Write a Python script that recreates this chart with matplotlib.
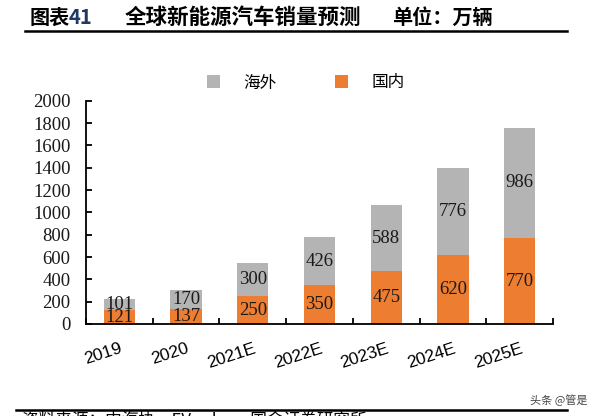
import numpy as np
import matplotlib
matplotlib.use("Agg")
import matplotlib.pyplot as plt
from matplotlib.lines import Line2D

plt.rcParams['font.family'] = ['Noto Sans CJK SC', 'DejaVu Sans']

categories = ['2019', '2020', '2021E', '2022E', '2023E', '2024E', '2025E']
domestic = [121, 137, 250, 350, 475, 620, 770]
overseas = [101, 170, 300, 426, 588, 776, 986]
yticks = list(range(0, 2001, 200))

W, H = 599, 416
fig = plt.figure(figsize=(W / 100, H / 100), dpi=100)
ax = fig.add_axes([86 / W, 92 / H, 467 / W, 223.3 / H])

x = np.arange(len(categories))
orange = '#ED7D31'
grey = '#B4B4B4'
b1 = ax.bar(x, domestic, width=0.47, color=orange, label='国内', zorder=2)
b2 = ax.bar(x, overseas, bottom=domestic, width=0.47, color=grey, label='海外', zorder=2)
for b in (b1, b2):
    ax.bar_label(b, label_type='center', fontfamily='Liberation Serif',
                 fontsize=13.5, color='#1a1a1a')

ax.set_xlim(-0.5, len(categories) - 0.5)
ax.set_ylim(0, 2000)
ax.set_yticks(yticks)
ax.set_yticklabels([str(v) for v in yticks], fontfamily='Liberation Serif',
                   fontsize=13.5, color='#1a1a1a')
ax.tick_params(axis='y', direction='in', length=4.5, width=1.3, pad=11)

ax.set_xticks(x)
ax.set_xticklabels(categories, fontfamily='Liberation Sans', fontsize=12.5,
                   rotation=18, ha='right', rotation_mode='anchor', color='black')
ax.tick_params(axis='x', which='major', length=0, pad=12)
ax.set_xticks(np.arange(-0.5, len(categories), 1.0), minor=True)
ax.tick_params(axis='x', which='minor', direction='in', length=4.5, width=1.3)

for s in ('top', 'right'):
    ax.spines[s].set_visible(False)
for s in ('left', 'bottom'):
    ax.spines[s].set_linewidth(1.3)
    ax.spines[s].set_color('black')
ax.spines['bottom'].set_zorder(3)

leg = fig.legend(handles=[b2, b1], labels=['海外', '国内'], loc='center',
                 bbox_to_anchor=(306 / W, 1 - 83 / H), ncol=2, frameon=False,
                 fontsize=12, handlelength=0.8, handleheight=0.8,
                 handletextpad=1.4, columnspacing=3.5)

# Title
fig.text(30 / W, 1 - 17 / H, '图表', fontsize=14.5, fontweight='bold', va='center', ha='left')
fig.text(69 / W, 1 - 17 / H, '41', fontsize=14.5, fontweight='bold', va='center', ha='left',
         color='#1F3864')
fig.text(125 / W, 1 - 17 / H, '全球新能源汽车销量预测', fontsize=15.5, fontweight='bold',
         va='center', ha='left')
fig.text(392 / W, 1 - 17 / H, '单位：万辆', fontsize=14.5, fontweight='bold',
         va='center', ha='left')
fig.add_artist(Line2D([25 / W, 567 / W], [1 - 30.5 / H, 1 - 30.5 / H], color='black', lw=1.8))

# Bottom rule and source
fig.add_artist(Line2D([16 / W, 567 / W], [1 - 409.5 / H, 1 - 409.5 / H], color='black', lw=1.8))
fig.text(22 / W, 1 - 412 / H, '资料来源：中汽协，EV sales，国金证券研究所', fontsize=12,
         va='top', ha='left')
fig.text(587 / W, 1 - 400 / H, '头条 @管是', fontsize=8, va='center', ha='right', color='#444444')

fig.savefig('out.png', dpi=100)
